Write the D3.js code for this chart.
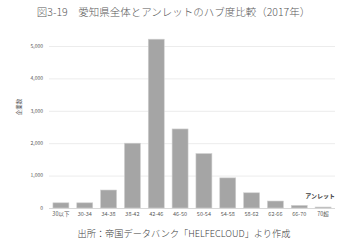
<!DOCTYPE html>
<html>
<head>
<meta charset="utf-8">
<script src="https://cdn.jsdelivr.net/npm/d3@7"></script>
<style>
  body { margin: 0; background: #fff; }
  svg { display: block; font-family: "Noto Sans CJK JP", "Noto Sans", sans-serif; }
</style>
</head>
<body>
<div id="chart"></div>
<script>
// data
const categories = ["30以下", "30-34", "34-38", "38-42", "42-46", "46-50", "50-54", "54-58", "58-62", "62-66", "66-70", "70超"];
const counts = [160, 160, 555, 2000, 5210, 2440, 1680, 930, 470, 215, 80, 30];
const yTicks = [0, 1000, 2000, 3000, 4000, 5000];

const width = 347;
const height = 245;
const margin = { top: 46, right: 12, bottom: 37, left: 49 };

const svg = d3.select("#chart")
  .append("svg")
  .attr("width", width)
  .attr("height", height);

const x = d3.scaleBand()
  .domain(categories)
  .range([margin.left, width - margin.right])
  .paddingInner(0.33)
  .paddingOuter(0.165);

const y = d3.scaleLinear()
  .domain([0, 5000])
  .range([height - margin.bottom, margin.top]);

// gridlines
svg.append("g")
  .selectAll("line")
  .data(yTicks)
  .join("line")
  .attr("x1", margin.left)
  .attr("x2", width - margin.right)
  .attr("y1", d => y(d) + 0.5)
  .attr("y2", d => y(d) + 0.5)
  .attr("stroke", d => d === 0 ? "#d9d9d9" : "#ececec")
  .attr("stroke-width", 1);

// y tick labels
svg.append("g")
  .selectAll("text")
  .data(yTicks)
  .join("text")
  .attr("x", margin.left - 6)
  .attr("y", d => y(d))
  .attr("dy", "0.35em")
  .attr("text-anchor", "end")
  .attr("font-size", 5)
  .attr("fill", "#595959")
  .text(d => d3.format(",")(d));

// bars
svg.append("g")
  .selectAll("rect")
  .data(counts)
  .join("rect")
  .attr("x", (d, i) => x(categories[i]))
  .attr("y", d => y(d))
  .attr("width", x.bandwidth())
  .attr("height", d => y(0) - y(d))
  .attr("fill", "#a5a5a5")
  .attr("stroke", "#d0d0d0")
  .attr("stroke-width", 0.6);

// x labels
svg.append("g")
  .selectAll("text")
  .data(categories)
  .join("text")
  .attr("x", d => x(d) + x.bandwidth() / 2)
  .attr("y", y(0) + 8)
  .attr("text-anchor", "middle")
  .attr("font-size", 5.5)
  .attr("fill", "#595959")
  .text(d => d);

// y axis title
svg.append("text")
  .attr("transform", `translate(19,${(margin.top + y(0)) / 2 - 20}) rotate(-90)`)
  .attr("text-anchor", "middle")
  .attr("dy", "0.35em")
  .attr("font-size", 5.5)
  .attr("fill", "#595959")
  .text("企業数");

// series label
svg.append("text")
  .attr("x", width - margin.right)
  .attr("y", y(0) - 10)
  .attr("text-anchor", "end")
  .attr("font-size", 6)
  .attr("font-weight", "bold")
  .attr("fill", "#404040")
  .text("アンレット");

// title
svg.append("text")
  .attr("x", 173.5)
  .attr("y", 15.5)
  .attr("text-anchor", "middle")
  .attr("font-size", 10.5)
  .attr("font-weight", 300)
  .attr("fill", "#595959")
  .text("図3-19　愛知県全体とアンレットのハブ度比較（2017年）");

// source
svg.append("text")
  .attr("x", 184)
  .attr("y", 237)
  .attr("text-anchor", "middle")
  .attr("font-size", 9.2)
  .attr("font-weight", 300)
  .attr("fill", "#404040")
  .text("出所：帝国データバンク「HELFECLOUD」より作成");
</script>
</body>
</html>
